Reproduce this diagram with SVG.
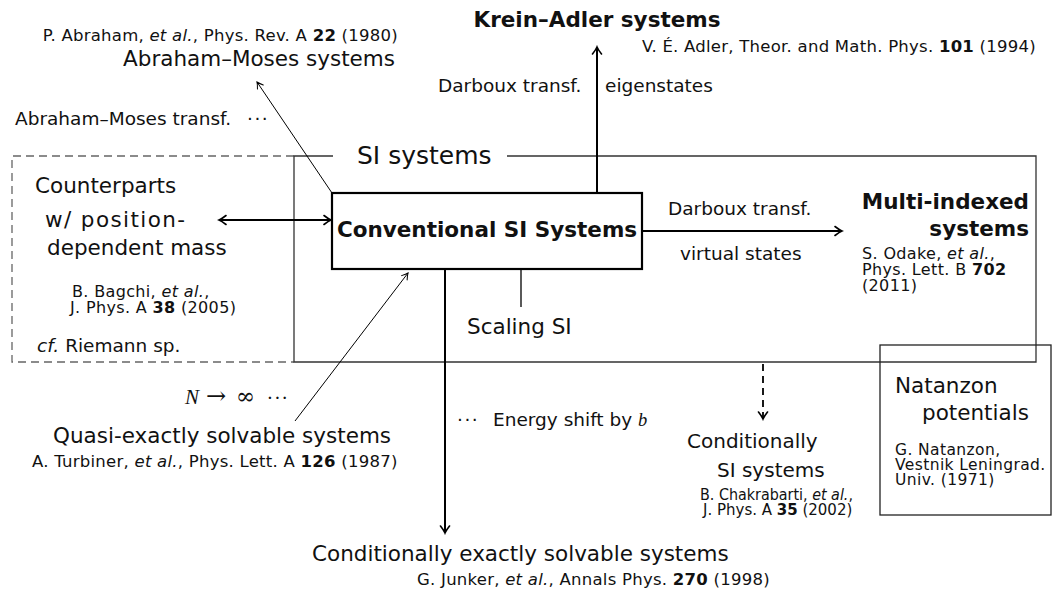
<svg xmlns="http://www.w3.org/2000/svg" width="1060" height="601" viewBox="0 0 1060 601">
<defs>
<style>
text{font-family:"DejaVu Sans","Liberation Sans",sans-serif;fill:#111}
.ref{font-size:16.5px;letter-spacing:0.25px}
.ref2{font-size:16px;letter-spacing:0.35px}
.lbl{font-size:18.5px}
.big{font-size:21.5px}
.mid{font-size:20px}
.bold{font-size:21.5px;font-weight:bold}
.title{font-size:25px}
.it{font-style:italic}
.b{font-weight:bold}
.dots{letter-spacing:1.5px}
.math{font-family:"Liberation Serif","DejaVu Serif",serif;font-style:italic}
.sym{font-family:"DejaVu Serif","Liberation Serif",serif}
.thick{stroke:#000;stroke-width:2;fill:none}
.thin{stroke:#000;stroke-width:1;fill:none}
.frame{stroke:#333;stroke-width:1.3;fill:none}
.dash{stroke:#666;stroke-width:1.3;fill:none;stroke-dasharray:8 5}
.dasharrow{stroke:#000;stroke-width:1.8;fill:none;stroke-dasharray:7 5}
</style>
<marker id="ah" viewBox="-10 -6 12 12" markerWidth="12" markerHeight="12" refX="0" refY="0" orient="auto-start-reverse" markerUnits="userSpaceOnUse">
<path d="M-7,-4.5 Q-2.5,-1 0,0 Q-2.5,1 -7,4.5" fill="none" stroke="#000" stroke-width="1.6" stroke-linecap="round"/>
</marker>
<marker id="ahs" viewBox="-10 -6 12 12" markerWidth="12" markerHeight="12" refX="0" refY="0" orient="auto" markerUnits="userSpaceOnUse">
<path d="M-6,-3.5 Q-2,-0.8 0,0 Q-2,0.8 -6,3.5" fill="none" stroke="#000" stroke-width="1" stroke-linecap="round"/>
</marker>
</defs>

<g id="si-frame">
<path class="dash" d="M294,156 H12 V362 H294"/>
<path class="frame" d="M333,156 H294 V362 H1036 V156 H507"/>
<text class="title" x="357" y="164">SI systems</text>
</g>

<g id="connectors">
<line class="thin" x1="332" y1="193" x2="257" y2="82" marker-end="url(#ahs)"/>
<line class="thick" x1="597" y1="193" x2="597" y2="47" marker-end="url(#ah)"/>
<line class="thick" x1="219" y1="220" x2="331" y2="220" marker-start="url(#ah)" marker-end="url(#ah)"/>
<line class="thick" x1="642" y1="231" x2="842" y2="231" marker-end="url(#ah)"/>
<line class="thick" x1="445" y1="269" x2="445" y2="533" marker-end="url(#ah)"/>
<line class="thin" x1="521" y1="269" x2="521" y2="307" style="stroke-width:1.3"/>
<line class="thin" x1="295" y1="421" x2="408" y2="273" marker-end="url(#ahs)"/>
<line class="dasharrow" x1="763" y1="364" x2="763" y2="412"/>
<line class="thick" x1="763" y1="412" x2="763" y2="419" style="stroke-width:1.8" marker-end="url(#ah)"/>
</g>

<g id="abraham-moses">
<text class="ref" x="398" y="41" text-anchor="end">P. Abraham, <tspan class="it">et al.</tspan>, Phys. Rev. A <tspan class="b">22</tspan> (1980)</text>
<text class="big" x="395" y="66" text-anchor="end">Abraham–Moses systems</text>
<text class="lbl" x="15" y="125">Abraham–Moses transf. <tspan class="dots" x="247">···</tspan></text>
</g>

<g id="krein-adler">
<text class="bold" x="597" y="27" text-anchor="middle">Krein–Adler systems</text>
<text class="ref" x="642" y="52">V. É. Adler, Theor. and Math. Phys. <tspan class="b">101</tspan> (1994)</text>
<text class="lbl" x="438" y="92">Darboux transf.</text>
<text class="lbl" x="605" y="92">eigenstates</text>
</g>

<g id="counterparts">
<text class="big" x="35" y="193">Counterparts</text>
<text class="big" x="45" y="227" textLength="140">w/ position-</text>
<text class="big" x="47" y="255">dependent mass</text>
<text class="ref2" x="72" y="297">B. Bagchi, <tspan class="it">et al.</tspan>,</text>
<text class="ref2" x="70" y="313">J. Phys. A <tspan class="b">38</tspan> (2005)</text>
<text class="lbl" x="37" y="352"><tspan class="it">cf.</tspan> Riemann sp.</text>
</g>

<g id="conventional">
<rect x="332" y="193" width="310" height="76" fill="#fff" stroke="#000" stroke-width="2.2"/>
<text class="bold" x="487" y="237" text-anchor="middle">Conventional SI Systems</text>
</g>

<g id="multi-indexed">
<text class="lbl" x="668" y="215">Darboux transf.</text>
<text class="lbl" x="680" y="260">virtual states</text>
<text class="bold" x="1029" y="209" text-anchor="end">Multi-indexed</text>
<text class="bold" x="1029" y="236" text-anchor="end">systems</text>
<text class="ref2" x="862" y="259">S. Odake, <tspan class="it">et al.</tspan>,</text>
<text class="ref2" x="862" y="275">Phys. Lett. B <tspan class="b">702</tspan></text>
<text class="ref2" x="862" y="291">(2011)</text>
</g>

<g id="scaling">
<text class="big" x="467" y="334">Scaling SI</text>
</g>

<g id="quasi-exact">
<text class="sym" style="font-size:21px" y="404"><tspan class="math" x="185">N</tspan><tspan x="206" style="font-size:24px">→</tspan><tspan x="236" style="font-size:23px">∞</tspan><tspan class="dots" x="267" style="font-size:18.5px">···</tspan></text>
<text class="big" x="53" y="443">Quasi-exactly solvable systems</text>
<text class="ref" x="32" y="467">A. Turbiner, <tspan class="it">et al.</tspan>, Phys. Lett. A <tspan class="b">126</tspan> (1987)</text>
</g>

<g id="cond-exact">
<text class="lbl" y="426"><tspan class="dots" x="457">···</tspan><tspan x="493">Energy shift by </tspan><tspan class="math">b</tspan></text>
<text class="big" x="312" y="561">Conditionally exactly solvable systems</text>
<text class="ref" x="417" y="585">G. Junker, <tspan class="it">et al.</tspan>, Annals Phys. <tspan class="b">270</tspan> (1998)</text>
</g>

<g id="cond-si">
<text class="mid" x="687" y="448">Conditionally</text>
<text class="mid" x="717" y="477">SI systems</text>
<text x="700" y="500" style="font-size:15px" textLength="153" lengthAdjust="spacingAndGlyphs">B. Chakrabarti, <tspan class="it">et al.</tspan>,</text>
<text x="703" y="515" style="font-size:15px">J. Phys. A <tspan class="b">35</tspan> (2002)</text>
</g>

<g id="natanzon">
<rect x="880" y="345" width="171" height="170" fill="none" stroke="#222" stroke-width="1.3"/>
<text class="big" x="895" y="393">Natanzon</text>
<text class="big" x="922" y="420">potentials</text>
<text x="895" y="455" style="font-size:15.5px;letter-spacing:0.4px">G. Natanzon,</text>
<text x="895" y="470" style="font-size:15.5px;letter-spacing:0.4px">Vestnik Leningrad.</text>
<text x="895" y="485" style="font-size:15.5px;letter-spacing:0.4px">Univ. (1971)</text>
</g>
</svg>
